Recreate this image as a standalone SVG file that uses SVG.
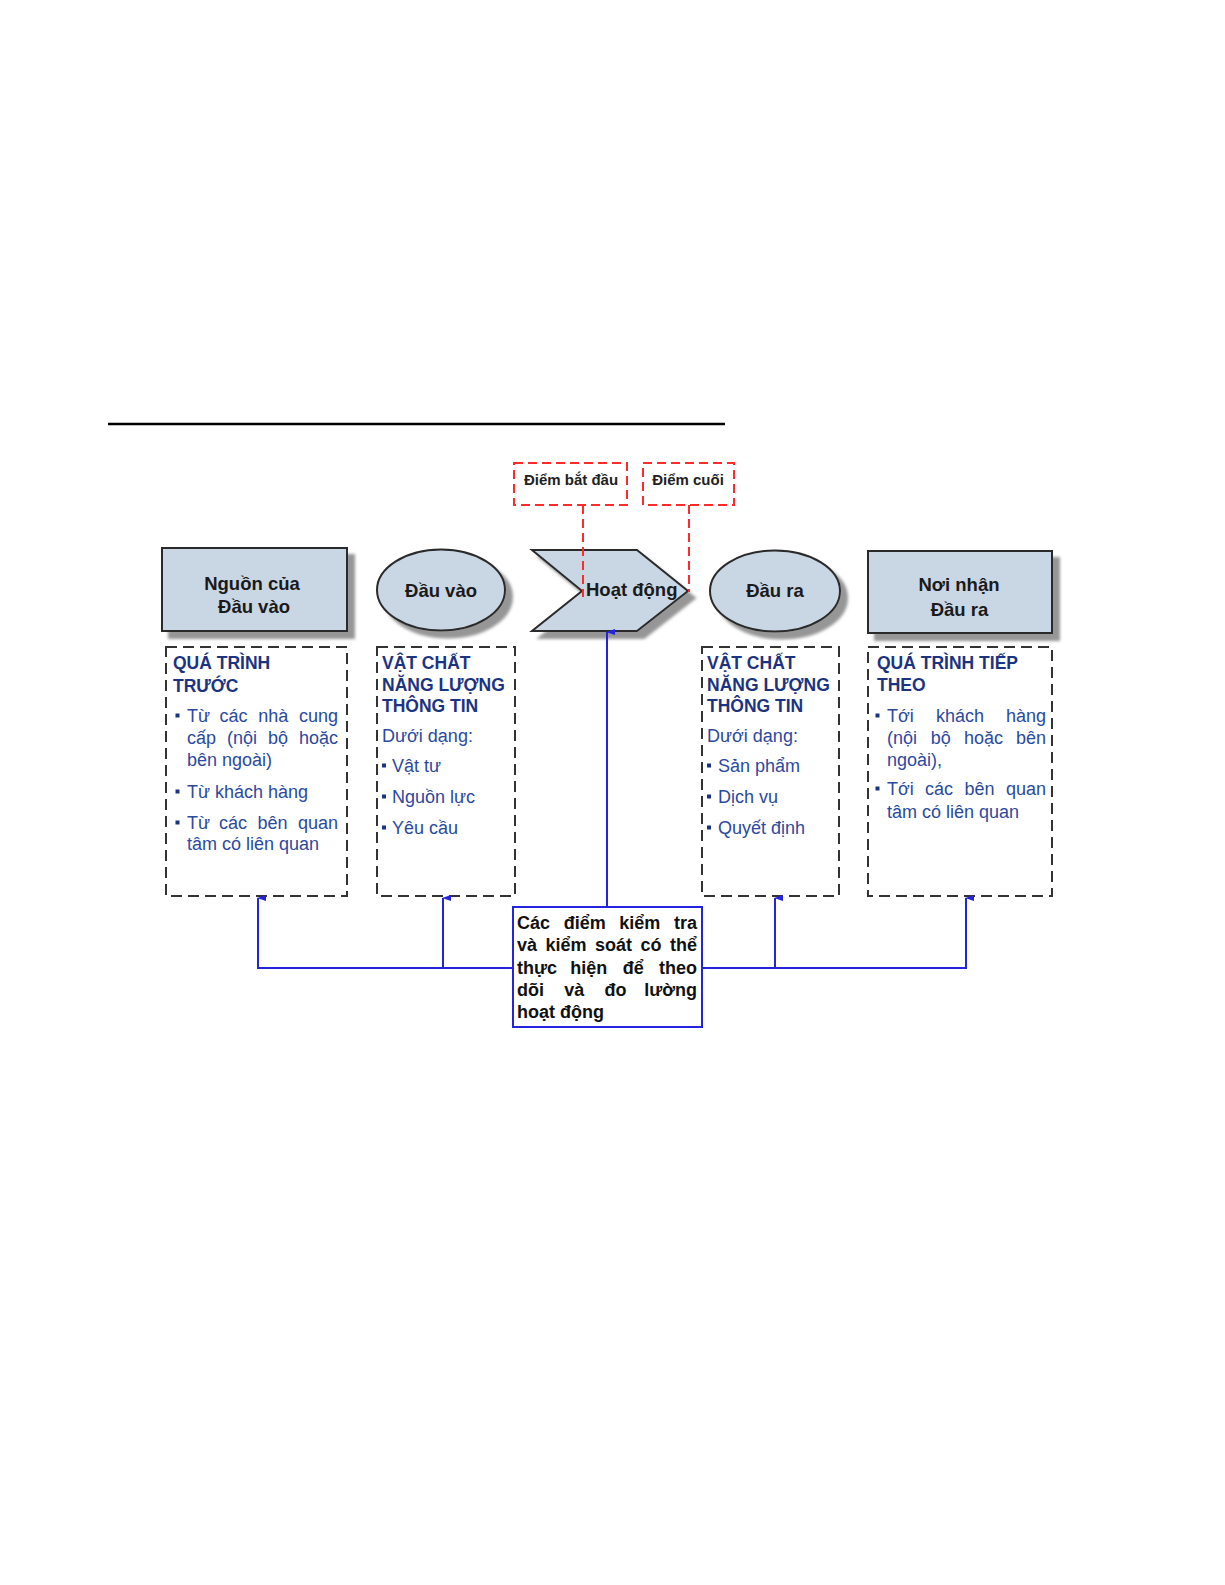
<svg xmlns="http://www.w3.org/2000/svg" width="1225" height="1585" viewBox="0 0 1225 1585">
<defs>
<filter id="sh" x="-10%" y="-10%" width="130%" height="135%">
<feDropShadow dx="7" dy="7" stdDeviation="1.5" flood-color="#8a8a8a" flood-opacity="0.9"/>
</filter>
<marker id="arr" markerWidth="6" markerHeight="9" refX="3" refY="1" orient="auto-start-reverse" markerUnits="userSpaceOnUse" viewBox="0 0 6 9">
<path d="M3 0 L6 9 L0 9 Z" fill="#2424E0"/>
</marker>
<style>
text{font-family:"Liberation Sans",Arial,sans-serif;}
.shape{fill:#C9D6E4;stroke:#2a2a2a;stroke-width:2;filter:url(#sh);}
.lbl{font-size:18.5px;font-weight:bold;fill:#1a1a1a;}
.red{fill:none;stroke:#FF2A2A;stroke-width:2;stroke-dasharray:9 5;}
.rtxt{font-size:15px;font-weight:bold;fill:#222;}
.dbox{fill:none;stroke:#333;stroke-width:2;stroke-dasharray:11 6;}
.hd{font-size:17.5px;font-weight:bold;fill:#1C3382;}
.bd{font-size:18px;fill:#2B4A9E;}
.bul{fill:#1C3382;}
.con{fill:none;stroke:#2424E0;stroke-width:2;}
.ctxt{font-size:18px;font-weight:bold;fill:#111;}
</style>
</defs>
<rect width="1225" height="1585" fill="#fff"/>
<line x1="108" y1="424" x2="725" y2="424" stroke="#000" stroke-width="2.5"/>

<g id="start-point">
<rect class="red" x="514" y="463" width="113" height="42"/>
<text class="rtxt" x="571" y="485" text-anchor="middle">Điểm bắt đầu</text>
</g>
<g id="end-point">
<rect class="red" x="643" y="463" width="91" height="42"/>
<text class="rtxt" x="688" y="485" text-anchor="middle">Điểm cuối</text>
</g>

<g id="source">
<rect class="shape" x="162" y="548" width="185" height="83"/>
<text class="lbl" x="252" y="589.5" text-anchor="middle">Nguồn của</text>
<text class="lbl" x="254" y="612.5" text-anchor="middle">Đầu vào</text>
</g>
<g id="input">
<ellipse class="shape" cx="441" cy="590" rx="64" ry="40.5"/>
<text class="lbl" x="441" y="596.5" text-anchor="middle">Đầu vào</text>
</g>
<g id="activity">
<polygon class="shape" points="532,550 637,550 688,591 637,631 532,631 582,591"/>
<text class="lbl" x="586" y="595.5">Hoạt động</text>
</g>
<g id="output">
<ellipse class="shape" cx="775" cy="591" rx="65" ry="40.5"/>
<text class="lbl" x="775" y="597" text-anchor="middle">Đầu ra</text>
</g>
<g id="receiver">
<rect class="shape" x="868" y="551" width="184" height="82"/>
<text class="lbl" x="959" y="590.5" text-anchor="middle">Nơi nhận</text>
<text class="lbl" x="959.5" y="615.5" text-anchor="middle">Đầu ra</text>
</g>

<g id="box-previous">
<rect class="dbox" x="166" y="647" width="181" height="249"/>
<text class="hd" x="173" y="669">QUÁ TRÌNH</text>
<text class="hd" x="173" y="692">TRƯỚC</text>
<rect class="bul" x="175.5" y="713.5" width="4" height="4"/>
<text class="bd" y="722"><tspan x="187">Từ</tspan><tspan x="219.4">các</tspan><tspan x="258.2">nhà</tspan><tspan x="338" text-anchor="end">cung</tspan></text>
<text class="bd" y="744"><tspan x="187">cấp</tspan><tspan x="227">(nội</tspan><tspan x="268">bộ</tspan><tspan x="338" text-anchor="end">hoặc</tspan></text>
<text class="bd" x="187" y="766">bên ngoài)</text>
<rect class="bul" x="175.5" y="789.5" width="4" height="4"/>
<text class="bd" x="187" y="798">Từ khách hàng</text>
<rect class="bul" x="175.5" y="820.5" width="4" height="4"/>
<text class="bd" y="829"><tspan x="187">Từ</tspan><tspan x="219.1">các</tspan><tspan x="257.6">bên</tspan><tspan x="338" text-anchor="end">quan</tspan></text>
<text class="bd" x="187" y="850">tâm có liên quan</text>
</g>

<g id="box-input">
<rect class="dbox" x="377" y="647" width="138" height="249"/>
<text class="hd" x="382" y="669">VẬT CHẤT</text>
<text class="hd" x="382" y="691">NĂNG LƯỢNG</text>
<text class="hd" x="382" y="712">THÔNG TIN</text>
<text class="bd" x="382" y="742">Dưới dạng:</text>
<rect class="bul" x="382" y="763.5" width="4" height="4"/>
<text class="bd" x="392" y="772">Vật tư</text>
<rect class="bul" x="382" y="794.5" width="4" height="4"/>
<text class="bd" x="392" y="803">Nguồn lực</text>
<rect class="bul" x="382" y="825.5" width="4" height="4"/>
<text class="bd" x="392" y="834">Yêu cầu</text>
</g>

<g id="box-output">
<rect class="dbox" x="702" y="647" width="137" height="249"/>
<text class="hd" x="707" y="669">VẬT CHẤT</text>
<text class="hd" x="707" y="691">NĂNG LƯỢNG</text>
<text class="hd" x="707" y="712">THÔNG TIN</text>
<text class="bd" x="707" y="742">Dưới dạng:</text>
<rect class="bul" x="707" y="763.5" width="4" height="4"/>
<text class="bd" x="718" y="772">Sản phẩm</text>
<rect class="bul" x="707" y="794.5" width="4" height="4"/>
<text class="bd" x="718" y="803">Dịch vụ</text>
<rect class="bul" x="707" y="825.5" width="4" height="4"/>
<text class="bd" x="718" y="834">Quyết định</text>
</g>

<g id="box-next">
<rect class="dbox" x="868" y="647" width="184" height="249"/>
<text class="hd" x="877" y="669">QUÁ TRÌNH TIẾP</text>
<text class="hd" x="877" y="691">THEO</text>
<rect class="bul" x="875.5" y="713.5" width="4" height="4"/>
<text class="bd" y="722"><tspan x="887">Tới</tspan><tspan x="935.9">khách</tspan><tspan x="1046" text-anchor="end">hàng</tspan></text>
<text class="bd" y="744"><tspan x="887">(nội</tspan><tspan x="930.7">bộ</tspan><tspan x="964">hoặc</tspan><tspan x="1046" text-anchor="end">bên</tspan></text>
<text class="bd" x="887" y="766">ngoài),</text>
<rect class="bul" x="875.5" y="786.5" width="4" height="4"/>
<text class="bd" y="795"><tspan x="887">Tới</tspan><tspan x="924.9">các</tspan><tspan x="964.5">bên</tspan><tspan x="1046" text-anchor="end">quan</tspan></text>
<text class="bd" x="887" y="818">tâm có liên quan</text>
</g>

<g id="control-points">
<rect x="513" y="907" width="189" height="120" fill="#fff" stroke="#2424E0" stroke-width="2"/>
<text class="ctxt" y="929"><tspan x="517">Các</tspan><tspan x="563.7">điểm</tspan><tspan x="619.3">kiểm</tspan><tspan x="697" text-anchor="end">tra</tspan></text>
<text class="ctxt" y="951"><tspan x="517">và</tspan><tspan x="545.5">kiểm</tspan><tspan x="595">soát</tspan><tspan x="640.5">có</tspan><tspan x="697" text-anchor="end">thể</tspan></text>
<text class="ctxt" y="973.5"><tspan x="517">thực</tspan><tspan x="570.3">hiện</tspan><tspan x="622.7">để</tspan><tspan x="697" text-anchor="end">theo</tspan></text>
<text class="ctxt" y="996"><tspan x="517">dõi</tspan><tspan x="564.3">và</tspan><tspan x="604.6">đo</tspan><tspan x="697" text-anchor="end">lường</tspan></text>
<text class="ctxt" x="517" y="1018">hoạt động</text>
</g>

<g id="connectors">
<line class="red" x1="583" y1="505" x2="583" y2="597"/>
<line class="red" x1="689" y1="505" x2="689" y2="592"/>
<line class="con" x1="607" y1="906" x2="607" y2="632" marker-end="url(#arr)"/>
<polyline class="con" points="512,968 258,968 258,898" marker-end="url(#arr)"/>
<line class="con" x1="443" y1="968" x2="443" y2="898" marker-end="url(#arr)"/>
<polyline class="con" points="703,968 966,968 966,898" marker-end="url(#arr)"/>
<line class="con" x1="775" y1="968" x2="775" y2="898" marker-end="url(#arr)"/>
</g>
</svg>
